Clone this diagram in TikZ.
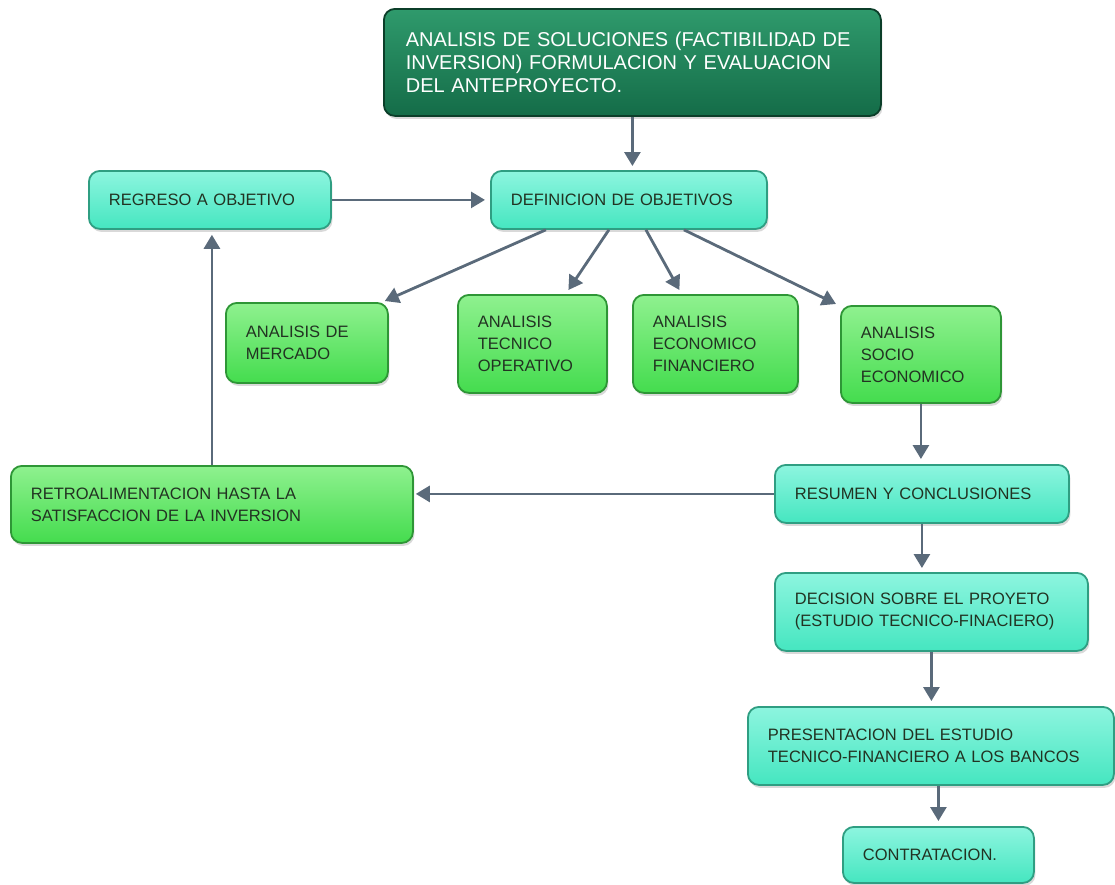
\documentclass[tikz,border=0pt]{standalone}
\usepackage{fontspec}
\setmainfont{Liberation Sans}
\usetikzlibrary{arrows.meta,shadows}
\definecolor{tealfill}{HTML}{45E6C0}
\definecolor{tealtop}{HTML}{8DF5DF}
\definecolor{tealline}{HTML}{2F9E82}
\definecolor{greenfill}{HTML}{44DC4E}
\definecolor{greentop}{HTML}{8FF18F}
\definecolor{greenline}{HTML}{2E9636}
\definecolor{headfill}{HTML}{146C48}
\definecolor{headtop}{HTML}{2F9A6C}
\definecolor{headline}{HTML}{0B3E29}
\definecolor{boxtext}{HTML}{223322}
\definecolor{linkgray}{HTML}{5A6A7A}
\tikzset{every picture/.style={line width=0.75pt}}
\tikzset{
  box/.style={draw, rounded corners=11pt, line width=1.8pt, anchor=north west,
    align=left, inner xsep=20pt, inner ysep=0pt, text=boxtext,
    font=\fontsize{16.5}{22}\selectfont,
    drop shadow={shadow xshift=1.5pt, shadow yshift=-3pt, opacity=0.3}},
  tealbox/.style={box, draw=tealline, top color=tealtop, bottom color=tealfill},
  greenbox/.style={box, draw=greenline, top color=greentop, bottom color=greenfill},
  headbox/.style={box, draw=headline, top color=headtop, bottom color=headfill,
    text=white, inner xsep=22pt, font=\fontsize{20}{23}\selectfont},
  link/.style={-{Triangle[width=16pt,length=14pt]}, line width=2.8pt, draw=linkgray}
}

\begin{document}
\begin{tikzpicture}[x=1pt,y=-1pt]
    \useasboundingbox (0,0) rectangle (1115,884);

    % Anteproyecto
    \node[headbox, text width=453pt, minimum height=107pt] (head) at (383,8)
        {ANALISIS DE SOLUCIONES (FACTIBILIDAD DE\\
         INVERSION) FORMULACION Y EVALUACION\\
         DEL ANTEPROYECTO.};

    % Objetivos
    \node[tealbox, text width=236pt, minimum height=58pt] (defobj) at (490,170)
        {DEFINICION DE OBJETIVOS};
    \node[tealbox, text width=202pt, minimum height=58pt] (regreso) at (88,170)
        {REGRESO A OBJETIVO};

    % Analisis
    \node[greenbox, text width=122pt, minimum height=80pt] (mercado) at (225,302)
        {ANALISIS DE\\ MERCADO};
    \node[greenbox, text width=109pt, minimum height=98pt] (tecnico) at (457,294)
        {ANALISIS\\ TECNICO\\ OPERATIVO};
    \node[greenbox, text width=125pt, minimum height=98pt] (economico) at (632,294)
        {ANALISIS\\ ECONOMICO\\ FINANCIERO};
    \node[greenbox, text width=120pt, minimum height=97pt] (socio) at (840,305)
        {ANALISIS\\ SOCIO\\ ECONOMICO};

    % Retroalimentacion
    \node[greenbox, text width=362pt, minimum height=77pt] (retro) at (10,465)
        {RETROALIMENTACION HASTA LA\\ SATISFACCION DE LA INVERSION};

    % Cierre
    \node[tealbox, text width=254pt, minimum height=58pt] (resumen) at (774,464)
        {RESUMEN Y CONCLUSIONES};
    \node[tealbox, text width=273pt, minimum height=78pt] (decision) at (774,572)
        {DECISION SOBRE EL PROYETO\\ (ESTUDIO TECNICO-FINACIERO)};
    \node[tealbox, text width=326pt, minimum height=78pt] (presenta) at (747,706)
        {PRESENTACION DEL ESTUDIO\\ TECNICO-FINANCIERO A LOS BANCOS};
    \node[tealbox, text width=151pt, minimum height=56pt] (contrata) at (842,826)
        {CONTRATACION.};

    % Conectores
    \draw[link, shorten >=4pt] (head.south) -- (head.south |- defobj.north);
    \draw[link, shorten >=5pt] (regreso.east) -- (defobj.west);
    \draw[link] ([xshift=-83pt]defobj.south) -- ([shift={(-4pt,1pt)}]mercado.north east);
    \draw[link] ([xshift=-20pt]defobj.south) -- ([shift={(36pt,4pt)}]tecnico.north);
    \draw[link] ([xshift=17pt]defobj.south) -- ([shift={(-36pt,4pt)}]economico.north);
    \draw[link] ([xshift=55pt]defobj.south) -- ([shift={(-4pt,1pt)}]socio.north west);
    \draw[link, shorten >=5pt] (socio.south) -- (socio.south |- resumen.north);
    \draw[link, shorten >=2pt] (resumen.west) -- (resumen.west -| retro.east);
    \draw[link, shorten >=5pt] (retro.north) -- (retro.north |- regreso.south);
    \draw[link, shorten >=4pt] (resumen.south) -- (resumen.south |- decision.north);
    \draw[link, shorten >=5pt] (decision.south) -- (decision.south |- presenta.north);
    \draw[link, shorten >=5pt] (contrata.north |- presenta.south) -- (contrata.north);
\end{tikzpicture}
\end{document}
